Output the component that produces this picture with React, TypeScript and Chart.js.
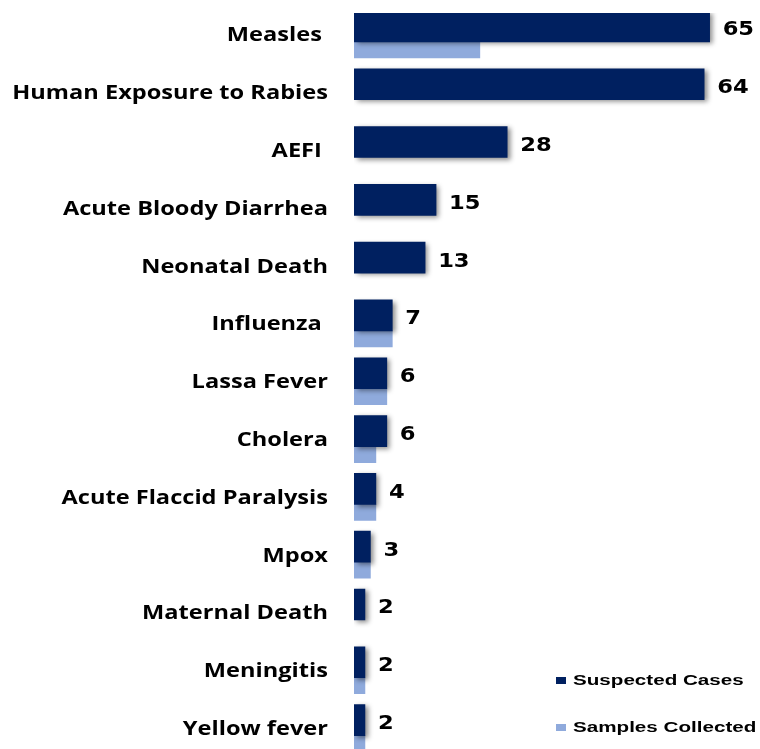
import React, { useEffect, useRef } from "react";
import { Chart, registerables } from "chart.js";
Chart.register(...registerables);

const categories = [
  "Measles ",
  "Human Exposure to Rabies",
  "AEFI ",
  "Acute Bloody Diarrhea",
  "Neonatal Death",
  "Influenza ",
  "Lassa Fever",
  "Cholera",
  "Acute Flaccid Paralysis",
  "Mpox",
  "Maternal Death",
  "Meningitis",
  "Yellow fever",
];
const suspectedCases = [65, 64, 28, 15, 13, 7, 6, 6, 4, 3, 2, 2, 2];
const samplesCollected = [23, null, null, null, null, 7, 6, 4, 4, 3, null, 2, 2];
const seriesNames = ["Suspected Cases", "Samples Collected"];

const DARK = "#002060";
const LIGHT = "#8FAADC";

const shadowPlugin = {
  id: "barShadow",
  beforeDatasetDraw(chart: any, args: any) {
    if (args.index === 0) {
      const ctx = chart.ctx;
      ctx.save();
      ctx.shadowColor = "rgba(0,0,0,0.45)";
      ctx.shadowBlur = 5;
      ctx.shadowOffsetX = 3;
      ctx.shadowOffsetY = 2;
    }
  },
  afterDatasetDraw(chart: any, args: any) {
    if (args.index === 0) chart.ctx.restore();
  },
};

const labelPlugin = {
  id: "labels",
  afterDraw(chart: any) {
    const ctx = chart.ctx;
    const yScale = chart.scales.y;
    // category labels
    ctx.save();
    ctx.fillStyle = "#000";
    ctx.font = "bold 20px 'Open Sans'";
    ctx.textBaseline = "alphabetic";
    ctx.textAlign = "right";
    const sx = 1.18;
    chart.data.labels.forEach((lab: string, i: number) => {
      const c = yScale.getPixelForValue(i);
      ctx.save();
      ctx.translate(328, c - 0.5);
      ctx.scale(sx, 1);
      ctx.fillText(lab, 0, 0);
      ctx.restore();
    });
    // value labels
    const meta = chart.getDatasetMeta(0);
    ctx.textAlign = "left";
    ctx.font = "bold 20px 'DejaVu Sans'";
    meta.data.forEach((bar: any, i: number) => {
      const c = yScale.getPixelForValue(i);
      ctx.save();
      ctx.translate(bar.x + 13, c - 6.5);
      ctx.scale(1.13, 1);
      ctx.fillText(String(chart.data.datasets[0].data[i]), 0, 0);
      ctx.restore();
    });
    // legend
    const items = [
      { name: seriesNames[0], color: DARK, y: 685 },
      { name: seriesNames[1], color: LIGHT, y: 732 },
    ];
    ctx.font = "bold 15.5px 'Liberation Sans'";
    items.forEach((it) => {
      ctx.fillStyle = it.color;
      ctx.fillRect(556, it.y - 8, 10, 7);
      ctx.fillStyle = "#000";
      ctx.save();
      ctx.translate(573, it.y);
      ctx.scale(1.33, 1);
      ctx.fillText(it.name, 0, 0);
      ctx.restore();
    });
    ctx.restore();
  },
};

export default function App() {
  const ref = useRef<HTMLCanvasElement>(null);
  useEffect(() => {
    document.body.style.margin = "0";
    const chart = new Chart(ref.current!, {
      type: "bar",
      data: {
        labels: categories,
        datasets: [
          {
            label: seriesNames[0],
            data: suspectedCases,
            backgroundColor: DARK,
            barThickness: 31,
          },
          {
            label: seriesNames[1],
            data: samplesCollected,
            backgroundColor: LIGHT,
            barThickness: 16,
          },
        ],
      },
      options: {
        indexAxis: "y",
        responsive: false,
        animation: false,
        layout: { padding: { top: 13, bottom: 5.5, right: 23, left: 0 } },
        plugins: {
          legend: { display: false },
          tooltip: { enabled: false },
        },
        scales: {
          x: { display: false, min: 0, max: 70 },
          y: {
            grid: { display: false, drawTicks: false },
            border: { display: false },
            ticks: { display: false },
            afterFit(scale: any) {
              scale.width = 354;
            },
          },
        },
      },
      plugins: [shadowPlugin, labelPlugin],
    });
    return () => chart.destroy();
  }, []);
  return (
    <div style={{ width: 760, height: 749, overflow: "hidden", background: "#fff" }}>
      <canvas ref={ref} width={760} height={770} style={{ display: "block" }} />
    </div>
  );
}
